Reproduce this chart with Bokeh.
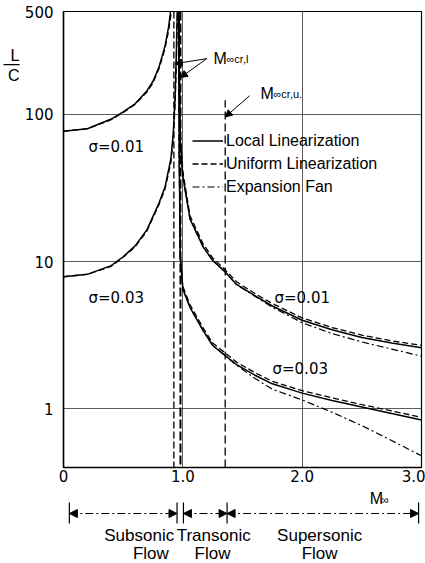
from bokeh.plotting import figure
from bokeh.models import (Range1d, FixedTicker, Span, Label, Arrow, NormalHead,
                          Legend, LegendItem, LogAxis)
from bokeh.layouts import column
from bokeh.embed import file_html
from bokeh.resources import INLINE
from bokeh.core.properties import value

# ---------------- data ----------------
# subsonic branch, sigma = 0.01
M_sub01 = [0.0, 0.2, 0.4, 0.5, 0.6, 0.7, 0.75, 0.8, 0.85, 0.88, 0.9, 0.915]
LC_sub01_local = [77, 80, 93, 104, 118, 145, 168, 210, 290, 390, 520, 800]
LC_sub01_uniform = [77, 80, 92, 103, 117, 142, 164, 204, 278, 368, 470, 690]

# subsonic branch, sigma = 0.03
M_sub03 = [0.0, 0.2, 0.4, 0.5, 0.6, 0.7, 0.8, 0.85, 0.9, 0.92, 0.935, 0.945, 0.955]
LC_sub03_local = [7.9, 8.2, 9.4, 10.8, 12.8, 16.5, 25, 32, 50, 75, 130, 250, 600]
LC_sub03_uniform = [7.9, 8.2, 9.3, 10.7, 12.6, 16.2, 24.4, 31, 47, 69, 115, 210, 480]

# supersonic branch
M_sup = [0.965, 0.97, 0.978, 1.0, 1.06, 1.17, 1.25, 1.355, 1.45, 1.6, 1.75,
         2.0, 2.25, 2.5, 2.75, 3.0]
LC_sup01_local = [700, 200, 67, 38, 19.5, 12.6, 10.2, 8.5, 7.0, 5.9, 5.0,
                  4.0, 3.45, 3.05, 2.8, 2.6]
LC_sup01_uniform = [800, 230, 75, 41, 20.5, 13.2, 10.6, 8.8, 7.3, 6.1, 5.2,
                    4.15, 3.57, 3.17, 2.9, 2.7]
LC_sup01_fan = [700, 200, 67, 38, 19.5, 12.6, 10.2, 8.5, 7.0, 5.85, 4.9,
                3.85, 3.25, 2.85, 2.55, 2.28]
LC_sup03_local = [600, 50, 11, 6.5, 4.9, 3.4, 2.7, 2.3, 2.0, 1.7, 1.48,
                  1.28, 1.14, 1.03, 0.93, 0.84]
LC_sup03_uniform = [700, 55, 11.5, 6.8, 5.1, 3.55, 2.8, 2.4, 2.08, 1.77, 1.54,
                    1.33, 1.19, 1.07, 0.97, 0.875]
LC_sup03_fan = [600, 50, 11, 6.5, 4.9, 3.4, 2.7, 2.3, 1.98, 1.62, 1.36,
                1.15, 0.95, 0.77, 0.61, 0.48]

# critical Mach numbers
M_cr_lower = [0.925, 0.98]
M_cr_upper = [1.355]
M_cr_upper_top = [125]

# flow regimes
regime_bounds = [0.0, 0.925, 0.98, 1.355, 3.0]
regime_spans = [(0.0, 0.925), (0.98, 1.355), (1.355, 3.0)]
regime_names = ["Subsonic", "Transonic", "Supersonic"]
regime_name_x = [0.60, 1.24, 2.15]
regime_flow_x = [0.70, 1.23, 2.15]

x_ticks = [0, 1, 2, 3]
x_tick_labels = {0: "0", 1: "1.0", 2: "2.0", 3: "3.0"}
y_ticks = [1, 10, 100, 500]
y_tick_labels = {1: "1", 10: "10", 100: "100", 500: "500"}

NUM_FONT = "DejaVu Sans"
TXT_FONT = "Liberation Sans"

# ---------------- main plot ----------------
p = figure(width=425, height=487, x_range=Range1d(0, 3), y_range=Range1d(0.4, 500),
           y_axis_type="log", output_backend="svg", toolbar_location=None,
           min_border_left=63, min_border_right=4, min_border_top=11,
           min_border_bottom=20)
p.background_fill_color = "white"
p.border_fill_color = "white"
p.outline_line_color = "black"
p.outline_line_width = 1.2

for ax in (p.xaxis, p.yaxis):
    ax.axis_line_color = "black"
    ax.axis_line_width = 1.5
    ax.major_tick_line_color = None
    ax.minor_tick_line_color = None
    ax.major_tick_out = 0
    ax.minor_tick_out = 0
    ax.major_tick_in = 0
    ax.minor_tick_in = 0
    ax.major_label_text_font = NUM_FONT
    ax.major_label_text_font_size = "15px"
    ax.major_label_text_color = "black"

p.xaxis.ticker = FixedTicker(ticks=x_ticks)
p.xaxis.major_label_overrides = x_tick_labels
p.xaxis.major_label_standoff = 2
p.yaxis.ticker = FixedTicker(ticks=y_ticks)
p.yaxis.major_label_overrides = y_tick_labels
p.yaxis.major_label_standoff = 10

# the "L over C" quantity label, placed as an outer left axis near the top
lc_ticks = [252, 222, 184]
lc_axis = LogAxis(ticker=FixedTicker(ticks=lc_ticks),
                  major_label_overrides={252: "L", 222: "—", 184: "C"},
                  axis_line_color=None, major_tick_line_color=None,
                  minor_tick_line_color=None, major_tick_out=0, minor_tick_out=0,
                  major_tick_in=0, minor_tick_in=0, major_label_standoff=2,
                  major_label_text_font=TXT_FONT, major_label_text_font_size="16px",
                  major_label_text_color="black")
p.add_layout(lc_axis, "left")

p.xgrid.ticker = FixedTicker(ticks=[1, 2])
p.ygrid.ticker = FixedTicker(ticks=[1, 10, 100])
p.grid.grid_line_color = "#333333"
p.grid.grid_line_width = 1
p.grid.grid_line_alpha = 0.8

SOLID = dict(line_color="black", line_width=1.5)
DASH = dict(line_color="black", line_width=1.3, line_dash="6 3")
FAN = dict(line_color="black", line_width=1.2, line_dash="7 3 2 3")

p.line(M_sub01, LC_sub01_local, **SOLID)
p.line(M_sub01, LC_sub01_uniform, **DASH)
p.line(M_sub03, LC_sub03_local, **SOLID)
p.line(M_sub03, LC_sub03_uniform, **DASH)

r_local = p.line(M_sup, LC_sup01_local, **SOLID)
r_uniform = p.line(M_sup, LC_sup01_uniform, **DASH)
r_fan = p.line(M_sup, LC_sup01_fan, **FAN)
p.line(M_sup, LC_sup03_local, **SOLID)
p.line(M_sup, LC_sup03_uniform, **DASH)
p.line(M_sup, LC_sup03_fan, **FAN)

# critical Mach lines
p.add_layout(Span(location=M_cr_lower[0], dimension="height", line_color="black",
                  line_width=1.3, line_dash="7 3"))
p.add_layout(Span(location=M_cr_lower[1], dimension="height", line_color="black",
                  line_width=2.0, line_dash="9 3"))
p.segment(x0=M_cr_upper, y0=[0.4], x1=M_cr_upper, y1=M_cr_upper_top,
          line_color="black", line_width=1.3, line_dash="8 4")

# legend (location = bottom-left corner, frame pixels)
legend = Legend(items=[LegendItem(label="Local Linearization", renderers=[r_local]),
                       LegendItem(label="Uniform Linearization", renderers=[r_uniform]),
                       LegendItem(label="Expansion Fan", renderers=[r_fan])],
                location=(129, 270), orientation="vertical",
                border_line_alpha=0, background_fill_alpha=0,
                padding=0, margin=0, spacing=2, glyph_width=31, glyph_height=21,
                label_height=21, label_standoff=3,
                label_text_font=TXT_FONT, label_text_font_size="16px",
                label_text_color="black")
p.add_layout(legend)


def lab(text, sx, sy, size="15px", font=TXT_FONT, align="left", baseline="middle"):
    p.add_layout(Label(x=sx, y=sy, x_units="screen", y_units="screen", text=text,
                       text_font=font, text_font_size=size, text_color="black",
                       text_align=align, text_baseline=baseline))


# sigma labels
lab("σ=0.01", 25, 321, "15px", NUM_FONT)
lab("σ=0.03", 25, 170, "15px", NUM_FONT)
lab("σ=0.01", 211, 170, "15px", NUM_FONT)
lab("σ=0.03", 209, 99, "15px", NUM_FONT)

# critical Mach labels
lab("M", 150, 409, "16px", TXT_FONT, baseline="alphabetic")
lab("∞cr,l", 163, 409, "11px", TXT_FONT, baseline="alphabetic")
lab("M", 197, 374, "16px", TXT_FONT, baseline="alphabetic")
lab("∞cr,u.", 210, 374, "11px", TXT_FONT, baseline="alphabetic")

head = dict(size=7, fill_color="black", line_color="black")
p.add_layout(Arrow(end=NormalHead(**head), x_start=1.20, y_start=239,
                   x_end=M_cr_lower[0] + 0.01, y_end=221, line_width=1))
p.add_layout(Arrow(end=NormalHead(**head), x_start=1.20, y_start=239,
                   x_end=M_cr_lower[1], y_end=178, line_width=1))
p.add_layout(Arrow(end=NormalHead(**head), x_start=1.56, y_start=134,
                   x_end=M_cr_upper[0], y_end=96, line_width=1))

# ---------------- flow regime strip (y = pixels below its top) ----------------
s = 358 / 3.0
q = figure(width=425, height=76, x_range=Range1d(-6 / s, 3 + 3 / s),
           y_range=Range1d(76, 0), output_backend="svg", toolbar_location=None,
           x_axis_location=None, y_axis_location=None,
           min_border_left=57, min_border_right=1, min_border_top=0,
           min_border_bottom=0)
q.grid.visible = False
q.outline_line_color = None
q.background_fill_color = "white"
q.border_fill_color = "white"

# x-axis title M_inf
q.text(x=[2.581], y=[11], text=["M"], text_align="left", text_baseline="alphabetic",
       text_font=value(TXT_FONT), text_font_size="16px", text_color="black")
q.text(x=[2.67], y=[12], text=["∞"], text_align="left", text_baseline="alphabetic",
       text_font=value(TXT_FONT), text_font_size="12px", text_color="black")

q.segment(x0=regime_bounds, y0=[15] * len(regime_bounds), x1=regime_bounds,
          y1=[36] * len(regime_bounds), line_color="black", line_width=1.2)
for a, b in regime_spans:
    q.add_layout(Arrow(start=NormalHead(size=8, fill_color="black", line_color="black"),
                       end=NormalHead(size=8, fill_color="black", line_color="black"),
                       x_start=a, y_start=26, x_end=b, y_end=26,
                       line_width=1, line_dash="8 3 2 3"))
q.text(x=regime_name_x, y=[48] * 3, text=regime_names, text_align="center",
       text_baseline="middle", text_font=value(TXT_FONT), text_font_size="17px",
       text_color="black")
q.text(x=regime_flow_x, y=[66] * 3, text=["Flow"] * 3, text_align="center",
       text_baseline="middle", text_font=value(TXT_FONT), text_font_size="17px",
       text_color="black")

layout = column(p, q, spacing=0)
open("out.html", "w").write(file_html(layout, INLINE))
